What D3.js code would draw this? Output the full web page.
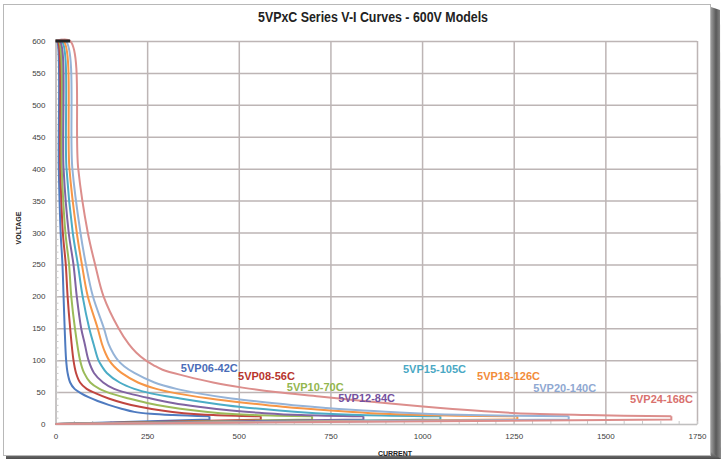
<!DOCTYPE html>
<html>
<head>
<meta charset="utf-8">
<script src="https://cdn.jsdelivr.net/npm/d3@7"></script>
<style>
  body { margin: 0; background: #fff; }
  svg { display: block; font-family: "Liberation Sans", Arial, sans-serif; }
  .grid line { stroke: #bdb5b5; stroke-width: 1.5; }
  .grid path { stroke: none; }
  .minor line { stroke: #c8c8c8; }
  .minor path { stroke: #c0c0c0; }
  .lbl text { fill: #404040; font-size: 8px; }
  .lbl path, .lbl line { stroke: none; }
</style>
</head>
<body>
<svg width="722" height="459"></svg>
<script>
// series names, colours, rated current and curve points
var names = ["5VP06-42C", "5VP08-56C", "5VP10-70C", "5VP12-84C", "5VP15-105C", "5VP18-126C", "5VP20-140C", "5VP24-168C"];
var colors = ["#4f7bc0", "#c0453f", "#9bbb59", "#8064a2", "#4bacc6", "#f79646", "#95b3d7", "#dc8e8c"];
var labelColors = ["#4a6cb8", "#b8352d", "#93b64e", "#7451a0", "#4aa8c4", "#f28c3a", "#8fa8d2", "#d9716e"];
var maxCurrent = [420, 560, 700, 840, 1050, 1260, 1400, 1680];
var dropVoltage = [7, 7, 7, 7, 7, 7, 7, 7];

// [current, voltage]
var curve06 = [[0,600],[4,600],[9,400],[14,300],[19,250],[22,200],[25,150],[29,100],[33,80],[40,65],[52,55],[70,48],[90,42],[115,36],[145,30],[180,24],[215,19],[260,16],[320,14],[420,12]];
var curve08 = [[0,600],[6,600],[13,400],[20,300],[28,250],[33,200],[40,150],[49,100],[56,80],[67,65],[85,55],[110,48],[145,40],[185,33],[230,27],[290,21],[350,17],[430,14],[560,12]];
var curve10 = [[0,600],[9,600],[17,400],[27,300],[37,250],[43,200],[53,150],[67,100],[78,80],[95,65],[120,55],[150,48],[200,40],[250,33],[305,27],[380,21],[450,17],[540,14],[700,12]];
var curve12 = [[0,600],[12,600],[22,400],[36,300],[49,250],[58,200],[70,150],[80,125],[90,100],[105,80],[130,65],[160,55],[200,48],[260,40],[320,33],[390,27],[480,21],[570,17],[670,14],[840,12]];
var curve15 = [[0,600],[17,600],[30,400],[47,300],[61,250],[74,200],[92,150],[104,125],[117,100],[127,90],[140,80],[175,65],[215,55],[260,48],[340,40],[420,33],[500,27],[610,21],[710,17],[830,14],[1050,12]];
var curve18 = [[0,600],[22,600],[38,400],[58,300],[72,250],[88,200],[115,150],[127,125],[137,110],[146,100],[160,90],[180,80],[225,65],[275,55],[330,48],[420,40],[520,33],[620,27],[750,21],[860,17],[1000,14],[1260,12]];
var curve20 = [[0,600],[28,600],[46,400],[68,300],[83,250],[102,200],[132,150],[145,125],[158,110],[170,100],[188,90],[215,80],[270,65],[330,55],[390,48],[480,40],[590,33],[700,27],[840,21],[980,17],[1130,14],[1400,12]];
var curve24 = [[0,600],[40,600],[62,400],[88,300],[108,250],[131,200],[172,150],[200,125],[220,112],[245,100],[268,92],[292,85],[355,75],[430,65],[510,57],[600,50],[720,43],[840,36],[950,30],[1050,25],[1170,20],[1300,16],[1450,14],[1680,12]];
var curves = [curve06, curve08, curve10, curve12, curve15, curve18, curve20, curve24];

var ratedLimit = [[0,600],[40,600]];

var xTicks = [0, 250, 500, 750, 1000, 1250, 1500, 1750];
var yTicks = [0, 50, 100, 150, 200, 250, 300, 350, 400, 450, 500, 550, 600];

// where each model name sits, in [current, voltage]
var labelAt = [[342,81],[498,69],[631,52],[771,34],[948,80],[1150,69],[1303,50],[1567,33]];

var svg = d3.select("svg"),
    margin = {top: 41, right: 25, bottom: 35, left: 55.5},
    width = +svg.attr("width") - margin.left - margin.right,
    height = +svg.attr("height") - margin.top - margin.bottom;

// page frame with a drop shadow
var defs = svg.append("defs");
var gr = defs.append("linearGradient").attr("id", "shR");
gr.append("stop").attr("offset", "0").attr("stop-color", "#9a9a9a");
gr.append("stop").attr("offset", "0.5").attr("stop-color", "#5a5a5a");
gr.append("stop").attr("offset", "1").attr("stop-color", "#8a8a8a");
var gb = defs.append("linearGradient").attr("id", "shB").attr("x1", 0).attr("y1", 0).attr("x2", 0).attr("y2", 1);
gb.append("stop").attr("offset", "0").attr("stop-color", "#8c8c8c");
gb.append("stop").attr("offset", "1").attr("stop-color", "#4c4c4c");

svg.append("path").attr("d", "M711,7 L720,10 L721,459 L711,459 Z").attr("fill", "url(#shR)");
svg.append("path").attr("d", "M6,456 L711,452 L721,459 L6,459 Z").attr("fill", "url(#shB)");
svg.append("rect").attr("x", 3.5).attr("y", 4.5).attr("width", 707).attr("height", 451)
    .attr("fill", "#fff").attr("stroke", "#b8b8b8");

var x = d3.scaleLinear().domain([0, 1750]).range([0, width]),
    y = d3.scaleLinear().domain([0, 600]).range([height, 0]);

var g = svg.append("g")
    .attr("transform", "translate(" + margin.left + "," + margin.top + ")");

// gridlines
g.append("g").attr("class", "grid")
    .call(d3.axisLeft(y).tickValues(yTicks).tickSize(-width).tickFormat(""));
g.append("g").attr("class", "grid")
    .attr("transform", "translate(0," + height + ")")
    .call(d3.axisBottom(x).tickValues(xTicks).tickSize(-height).tickFormat(""));

// minor ticks
g.append("g").attr("class", "minor")
    .call(d3.axisLeft(y).ticks(60).tickSize(-3).tickFormat("").tickSizeOuter(0));
g.append("g").attr("class", "minor")
    .attr("transform", "translate(0," + height + ")")
    .call(d3.axisBottom(x).ticks(35).tickSize(-3).tickFormat("").tickSizeOuter(0));

// tick labels
g.append("g").attr("class", "lbl")
    .call(d3.axisLeft(y).tickValues(yTicks).tickSize(0).tickPadding(10).tickFormat(d3.format("d")));
g.append("g").attr("class", "lbl")
    .attr("transform", "translate(0," + height + ")")
    .call(d3.axisBottom(x).tickValues(xTicks).tickSize(0).tickPadding(9).tickFormat(d3.format("d")));

var line = d3.line()
    .x(function(d) { return x(d[0]); })
    .y(function(d) { return y(d[1]); })
    .curve(d3.curveCatmullRom.alpha(0.5));
var straight = d3.line()
    .x(function(d) { return x(d[0]); })
    .y(function(d) { return y(d[1]); });

curves.forEach(function(c, i) {
  var last = c[c.length - 1];
  g.append("path")
      .attr("d", straight([last, [maxCurrent[i], dropVoltage[i]], [0, 0]]))
      .attr("fill", "none")
      .attr("stroke", colors[i])
      .attr("stroke-width", 2);
});
curves.forEach(function(c, i) {
  g.append("path")
      .attr("d", line(c))
      .attr("fill", "none")
      .attr("stroke", colors[i])
      .attr("stroke-width", 2);
});

g.append("path")
    .attr("d", straight(ratedLimit))
    .attr("fill", "none")
    .attr("stroke", "#222")
    .attr("stroke-width", 3);

// model names
g.selectAll(".name")
  .data(names)
  .enter().append("text")
    .attr("class", "name")
    .attr("x", function(d, i) { return x(labelAt[i][0]); })
    .attr("y", function(d, i) { return y(labelAt[i][1]); })
    .attr("fill", function(d, i) { return labelColors[i]; })
    .attr("font-size", "11px")
    .attr("font-weight", "bold")
    .text(function(d) { return d; });

// titles
svg.append("text")
    .attr("x", 373).attr("y", 22)
    .attr("text-anchor", "middle")
    .attr("font-size", "14px")
    .attr("font-weight", "bold")
    .attr("fill", "#222")
    .attr("textLength", 230)
    .attr("lengthAdjust", "spacingAndGlyphs")
    .text("5VPxC Series V-I Curves - 600V Models");

svg.append("text")
    .attr("transform", "translate(21,228) rotate(-90)")
    .attr("text-anchor", "middle")
    .attr("font-size", "7px")
    .attr("font-weight", "bold")
    .attr("fill", "#222")
    .text("VOLTAGE");

svg.append("text")
    .attr("x", 395).attr("y", 456)
    .attr("text-anchor", "middle")
    .attr("font-size", "7px")
    .attr("font-weight", "bold")
    .attr("fill", "#222")
    .text("CURRENT");
</script>
</body>
</html>
